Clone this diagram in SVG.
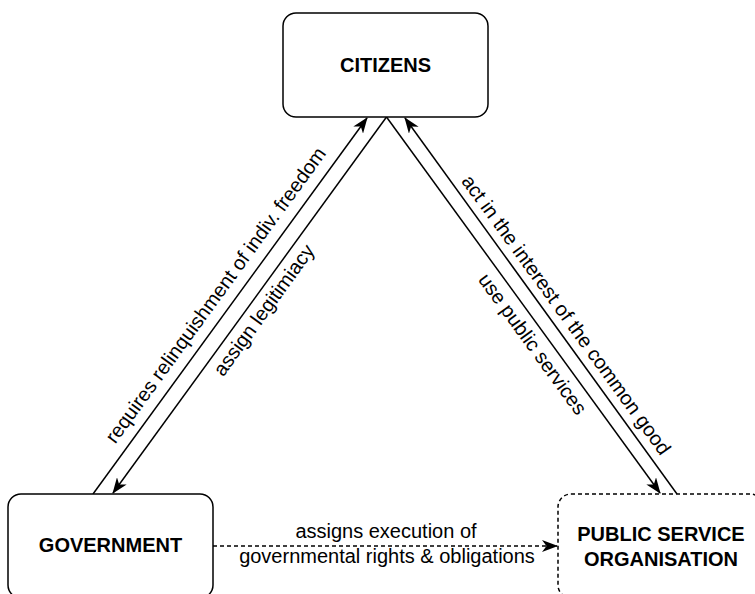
<svg xmlns="http://www.w3.org/2000/svg" width="755" height="594" viewBox="0 0 755 594">
<style>
.box{fill:#fff;stroke:#000;stroke-width:1.5}
.dash{stroke-dasharray:4 3}
.node{font-family:"Liberation Sans",Arial,sans-serif;font-size:20px;font-weight:bold;fill:#000;text-anchor:middle}
.lbl{font-family:"Liberation Sans",Arial,sans-serif;font-size:20px;fill:#000;text-anchor:middle}
.edge{fill:none;stroke:#000;stroke-width:1.5}
</style>
<defs>
<marker id="arr" viewBox="0 0 16 12" refX="15" refY="6" markerWidth="16" markerHeight="12" markerUnits="userSpaceOnUse" orient="auto">
<path d="M0,0 L16,6 L0,12 L4.5,6 Z" fill="#000"/>
</marker>
</defs>
<rect width="755" height="594" fill="#fff"/>
<g id="connectors">
<line class="edge" x1="93" y1="494" x2="367" y2="118" marker-end="url(#arr)"/>
<line class="edge" x1="386.5" y1="117" x2="113" y2="493" marker-end="url(#arr)"/>
<line class="edge" x1="386.5" y1="117" x2="660" y2="493" marker-end="url(#arr)"/>
<line class="edge" x1="677" y1="494" x2="405" y2="118" marker-end="url(#arr)"/>
<line class="edge dash" x1="213" y1="546" x2="557" y2="546" marker-end="url(#arr)"/>
<g transform="translate(230,305.5) rotate(-54)"><text class="lbl" x="0" y="-11">requires relinquishment of indiv. freedom</text></g>
<g transform="translate(249.5,305.5) rotate(-54)"><text class="lbl" x="4.7" y="21">assign legitimiacy</text></g>
<g transform="translate(541,306) rotate(54)"><text class="lbl" x="22" y="-8.5">act in the interest of the common good</text></g>
<g transform="translate(523.5,305) rotate(54)"><text class="lbl" x="37" y="22.4">use public services</text></g>
<text class="lbl" x="386" y="538">assigns execution of</text>
<text class="lbl" x="387" y="563">governmental rights &amp; obligations</text>
</g>
<g id="citizens">
<rect class="box" x="283" y="13" width="205" height="104" rx="13"/>
<text class="node" x="385.5" y="71.5">CITIZENS</text>
</g>
<g id="government">
<rect class="box" x="8" y="494" width="205" height="104" rx="13"/>
<text class="node" x="110.5" y="551.5">GOVERNMENT</text>
</g>
<g id="pso">
<rect class="box dash" x="558" y="494" width="205" height="104" rx="13"/>
<text class="node" x="661" y="540.5">PUBLIC SERVICE</text>
<text class="node" x="661" y="565.5">ORGANISATION</text>
</g>
</svg>
